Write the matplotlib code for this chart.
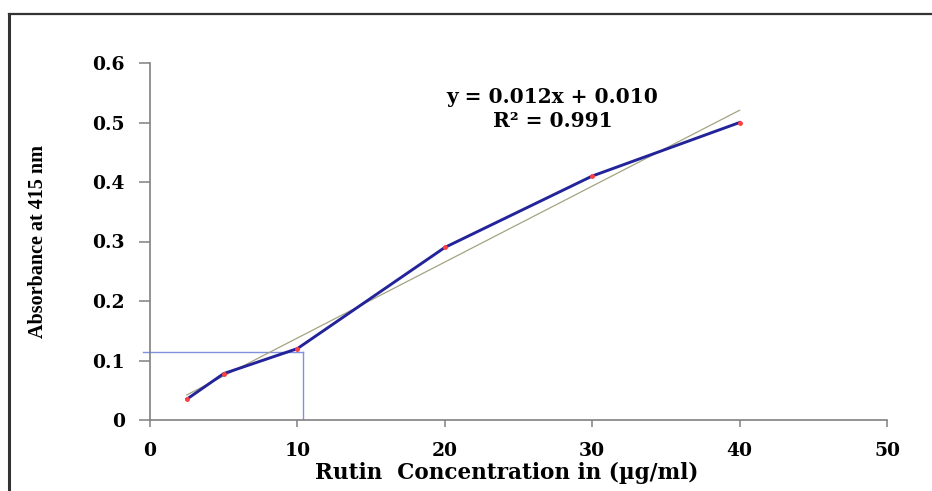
import numpy as np
import matplotlib
matplotlib.use('Agg')
import matplotlib.pyplot as plt
from matplotlib.lines import Line2D

# Rutin standard curve data
concentration = [2.5, 5, 10, 20, 30, 40]
absorbance = [0.035, 0.078, 0.12, 0.29, 0.41, 0.50]

# Sample read-off on the curve
sample_abs = 0.115
sample_conc = 10.4

x_ticks = [0, 10, 20, 30, 40, 50]
y_ticks = [0, 0.1, 0.2, 0.3, 0.4, 0.5, 0.6]
y_tick_labels = ['0', '0.1', '0.2', '0.3', '0.4', '0.5', '0.6']


def trunc3(v):
    # cut coefficients to 3 decimals for the equation label
    return np.floor(v * 1000) / 1000


W, H = 932, 491
fig = plt.figure(figsize=(W / 100, H / 100), dpi=100)
ax = fig.add_axes([150 / W, 1 - 420 / H, (887 - 150) / W, (420 - 63) / H])

# linear trendline through the standards
slope, intercept = np.polyfit(concentration, absorbance, 1)
xs = np.array([concentration[0], concentration[-1]])
ax.plot(xs, slope * xs + intercept, color='#a3a382', lw=0.9, zorder=2)

ax.plot(concentration, absorbance, color='#23239a', lw=2.1, zorder=3,
        marker='o', ms=2.5, mfc='#ff4040', mec='#ff4040')

# read-off lines for the sample
ax.plot([-0.5, sample_conc], [sample_abs, sample_abs], color='#7f90dd',
        lw=1.0, clip_on=False, zorder=1)
ax.plot([sample_conc, sample_conc], [0, sample_abs], color='#7f90dd',
        lw=1.0, zorder=1)

r2 = np.corrcoef(concentration, absorbance)[0, 1] ** 2
ax.text(27.3, 0.543, 'y = %.3fx + %.3f' % (trunc3(slope), trunc3(intercept)),
        ha='center', va='center', fontsize=14.5, fontweight='bold',
        family='DejaVu Serif')
ax.text(27.3, 0.503, 'R\u00b2 = %.3f' % r2, ha='center', va='center',
        fontsize=14.5, fontweight='bold', family='DejaVu Serif')

ax.set_xlim(0, 50)
ax.set_ylim(0, 0.6)
ax.set_xticks(x_ticks)
ax.set_yticks(y_ticks)
ax.set_yticklabels(y_tick_labels)
for lab in ax.get_xticklabels() + ax.get_yticklabels():
    lab.set_family('DejaVu Serif')
    lab.set_fontweight('bold')
    lab.set_fontsize(13.5)
ax.tick_params(axis='y', length=8, width=1.1, color='#808080', pad=10)
ax.tick_params(axis='x', length=5, width=1.1, color='#808080', pad=11)
for side in ['top', 'right']:
    ax.spines[side].set_visible(False)
for side in ['left', 'bottom']:
    ax.spines[side].set_color('#808080')
    ax.spines[side].set_linewidth(1.2)

ax.set_xlabel('Rutin  Concentration in (\u00b5g/ml)', family='DejaVu Serif',
              fontweight='bold', fontsize=15.5, va='center')
ax.xaxis.set_label_coords((507 - 150) / (887 - 150), -(473 - 420) / (420 - 63))
ax.set_ylabel('Absorbance at 415 nm', family='Liberation Serif',
              fontweight='bold', fontsize=14.5)
ax.yaxis.set_label_coords(-(150 - 48) / (887 - 150), (420 - 241) / (420 - 63))

# outer frame (left and top edges)
fig.add_artist(Line2D([9 / W, 9 / W], [0, 1 - 14 / H], transform=fig.transFigure,
                      color='#333333', lw=2.2))
fig.add_artist(Line2D([9 / W, 1], [1 - 14 / H, 1 - 14 / H], transform=fig.transFigure,
                      color='#333333', lw=1.6))

fig.savefig('out.png', dpi=100)
